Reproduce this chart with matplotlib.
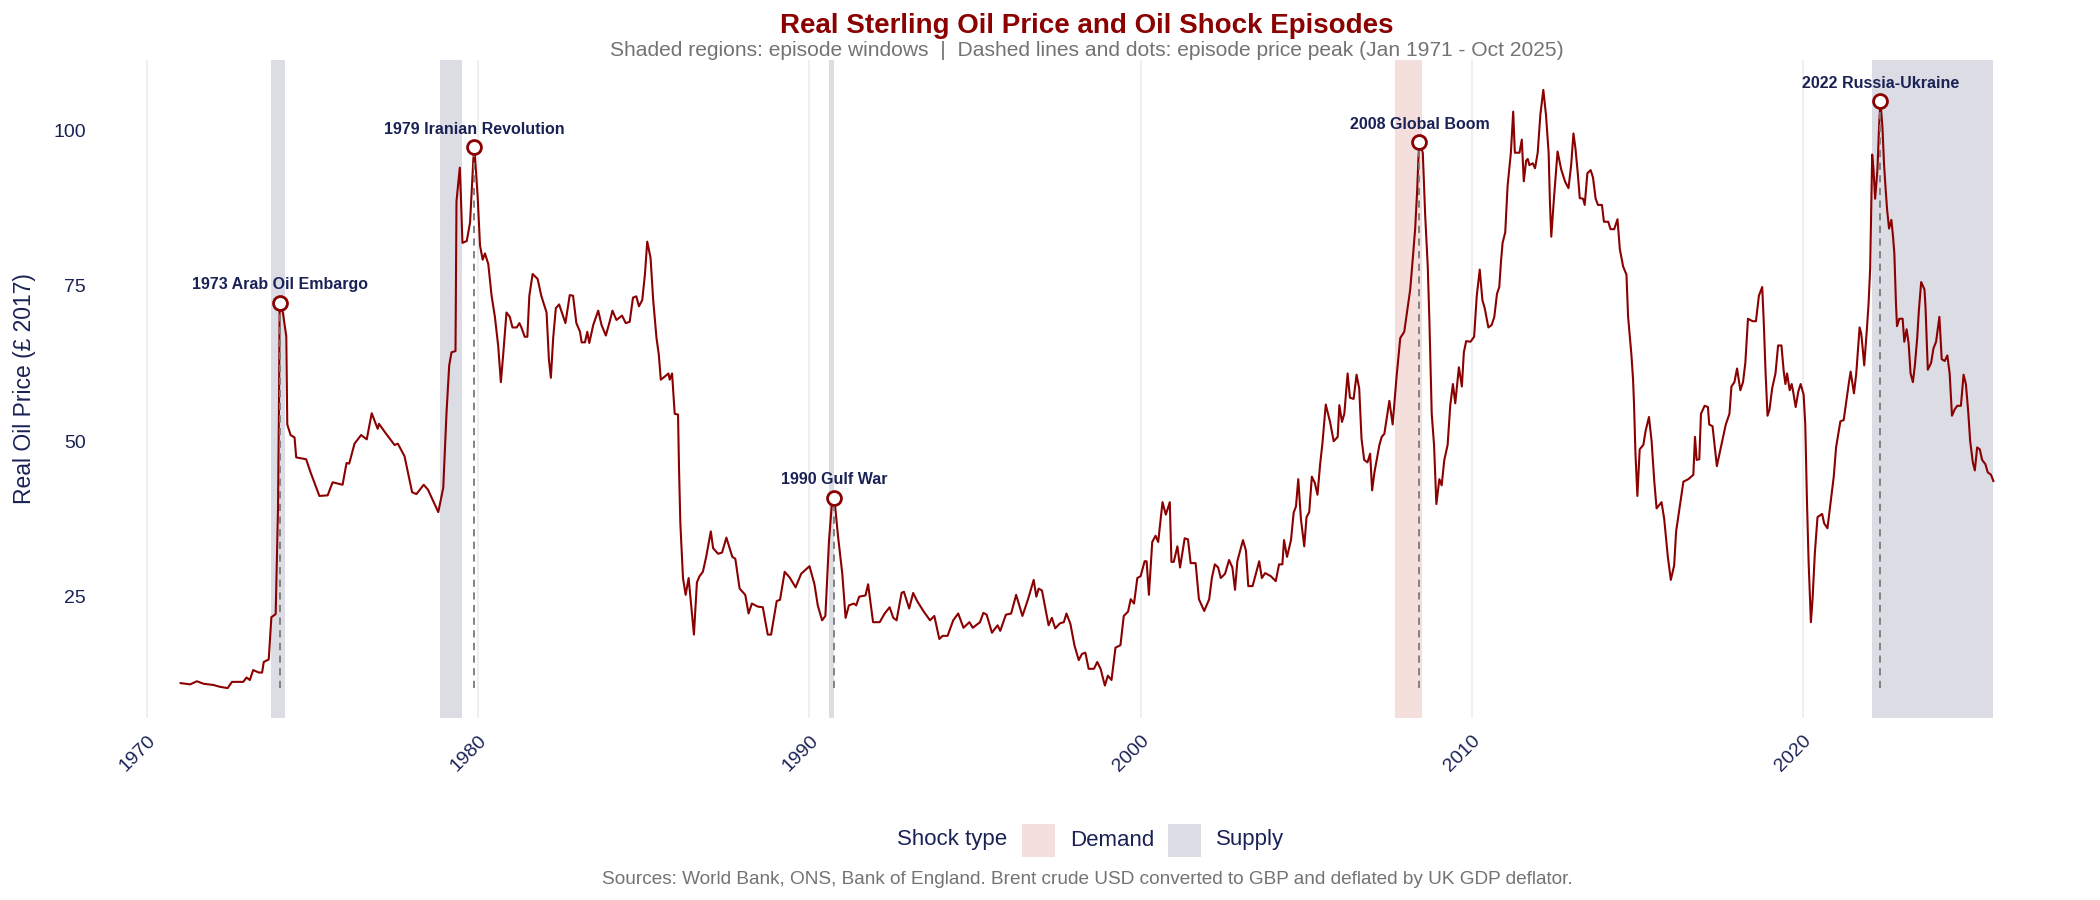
import matplotlib
matplotlib.use("Agg")
import matplotlib.pyplot as plt
from matplotlib.patches import Rectangle

plt.rcParams["font.family"] = ["Liberation Sans", "DejaVu Sans"]

# === 1. data (decimal year, real price in £ 2017) ===
years = [
    1971.01, 1971.3, 1971.5, 1971.7, 1972.0, 1972.2, 1972.43, 1972.56, 1972.9, 1973.0,
    1973.1, 1973.2, 1973.37, 1973.47, 1973.52, 1973.67, 1973.75, 1973.88, 1973.95, 1973.98,
    1974.0, 1974.1, 1974.2, 1974.23, 1974.33, 1974.45, 1974.5, 1974.8, 1974.94, 1975.2,
    1975.45, 1975.6, 1975.9, 1976.02, 1976.1, 1976.26, 1976.46, 1976.63, 1976.78, 1976.96,
    1977.0, 1977.2, 1977.47, 1977.57, 1977.77, 1978.0, 1978.13, 1978.35, 1978.48, 1978.79,
    1978.94, 1978.99, 1979.04, 1979.12, 1979.19, 1979.31, 1979.34, 1979.44, 1979.47, 1979.52,
    1979.65, 1979.75, 1979.85, 1979.88, 1979.98, 1980.05, 1980.13, 1980.2, 1980.3, 1980.4,
    1980.5, 1980.6, 1980.68, 1980.75, 1980.85, 1980.95, 1981.03, 1981.16, 1981.24, 1981.3,
    1981.4, 1981.48, 1981.54, 1981.64, 1981.79, 1981.9, 1982.06, 1982.13, 1982.19, 1982.26,
    1982.34, 1982.44, 1982.54, 1982.63, 1982.76, 1982.86, 1982.96, 1983.07, 1983.12, 1983.22,
    1983.29, 1983.35, 1983.47, 1983.62, 1983.72, 1983.85, 1983.97, 1984.05, 1984.17, 1984.34,
    1984.45, 1984.57, 1984.67, 1984.77, 1984.85, 1984.95, 1985.03, 1985.1, 1985.2, 1985.28,
    1985.38, 1985.45, 1985.51, 1985.63, 1985.74, 1985.78, 1985.85, 1985.93, 1986.03, 1986.06,
    1986.1, 1986.18, 1986.26, 1986.35, 1986.41, 1986.51, 1986.6, 1986.68, 1986.78, 1986.88,
    1987.02, 1987.09, 1987.24, 1987.36, 1987.49, 1987.67, 1987.76, 1987.89, 1988.06, 1988.16,
    1988.26, 1988.44, 1988.59, 1988.74, 1988.84, 1989.01, 1989.11, 1989.25, 1989.4, 1989.58,
    1989.75, 1990.0, 1990.15, 1990.25, 1990.38, 1990.48, 1990.59, 1990.68, 1990.75, 1990.86,
    1990.99, 1991.09, 1991.19, 1991.34, 1991.41, 1991.5, 1991.69, 1991.77, 1991.92, 1992.12,
    1992.27, 1992.42, 1992.53, 1992.63, 1992.78, 1992.85, 1993.01, 1993.13, 1993.25, 1993.45,
    1993.64, 1993.77, 1993.92, 1994.02, 1994.17, 1994.34, 1994.49, 1994.65, 1994.83, 1994.93,
    1995.15, 1995.25, 1995.35, 1995.51, 1995.68, 1995.76, 1995.93, 1996.09, 1996.24, 1996.43,
    1996.6, 1996.77, 1996.85, 1996.92, 1997.02, 1997.22, 1997.32, 1997.42, 1997.56, 1997.68,
    1997.76, 1997.88, 1998.0, 1998.13, 1998.23, 1998.33, 1998.43, 1998.59, 1998.69, 1998.79,
    1998.92, 1999.01, 1999.12, 1999.24, 1999.39, 1999.49, 1999.62, 1999.7, 1999.8, 1999.9,
    2000.0, 2000.12, 2000.18, 2000.25, 2000.35, 2000.45, 2000.53, 2000.66, 2000.76, 2000.88,
    2000.93, 2001.0, 2001.11, 2001.19, 2001.33, 2001.43, 2001.51, 2001.66, 2001.76, 2001.92,
    2002.07, 2002.15, 2002.24, 2002.34, 2002.42, 2002.55, 2002.67, 2002.77, 2002.85, 2002.92,
    2003.09, 2003.18, 2003.25, 2003.38, 2003.58, 2003.66, 2003.76, 2003.93, 2004.08, 2004.18,
    2004.28, 2004.33, 2004.42, 2004.54, 2004.62, 2004.69, 2004.76, 2004.84, 2004.94, 2005.01,
    2005.09, 2005.17, 2005.26, 2005.34, 2005.42, 2005.49, 2005.59, 2005.72, 2005.83, 2005.95,
    2006.0, 2006.08, 2006.15, 2006.25, 2006.32, 2006.43, 2006.52, 2006.6, 2006.67, 2006.75,
    2006.85, 2006.93, 2006.99, 2007.06, 2007.21, 2007.28, 2007.36, 2007.51, 2007.61, 2007.73,
    2007.84, 2007.96, 2008.06, 2008.14, 2008.22, 2008.29, 2008.35, 2008.39, 2008.42, 2008.52,
    2008.59, 2008.67, 2008.72, 2008.79, 2008.86, 2008.93, 2009.02, 2009.09, 2009.17, 2009.27,
    2009.35, 2009.43, 2009.5, 2009.61, 2009.7, 2009.76, 2009.83, 2009.96, 2010.07, 2010.15,
    2010.24, 2010.32, 2010.39, 2010.5, 2010.6, 2010.68, 2010.76, 2010.83, 2010.88, 2010.93,
    2011.01, 2011.08, 2011.18, 2011.25, 2011.3, 2011.44, 2011.51, 2011.57, 2011.64, 2011.69,
    2011.74, 2011.84, 2011.91, 2011.99, 2012.07, 2012.16, 2012.24, 2012.32, 2012.36, 2012.4,
    2012.48, 2012.53, 2012.59, 2012.7, 2012.82, 2012.92, 2013.0, 2013.07, 2013.13, 2013.2,
    2013.26, 2013.36, 2013.41, 2013.49, 2013.59, 2013.66, 2013.74, 2013.81, 2013.93, 2013.99,
    2014.12, 2014.19, 2014.3, 2014.4, 2014.47, 2014.57, 2014.67, 2014.72, 2014.82, 2014.87,
    2014.9, 2014.94, 2015.0, 2015.07, 2015.18, 2015.25, 2015.35, 2015.43, 2015.51, 2015.58,
    2015.73, 2015.81, 2015.92, 2016.01, 2016.11, 2016.17, 2016.29, 2016.39, 2016.54, 2016.69,
    2016.74, 2016.79, 2016.87, 2016.92, 2017.03, 2017.13, 2017.17, 2017.27, 2017.4, 2017.55,
    2017.67, 2017.78, 2017.84, 2017.93, 2018.01, 2018.11, 2018.19, 2018.26, 2018.34, 2018.48,
    2018.58, 2018.67, 2018.77, 2018.82, 2018.87, 2018.93, 2018.99, 2019.07, 2019.17, 2019.25,
    2019.35, 2019.42, 2019.47, 2019.52, 2019.6, 2019.66, 2019.71, 2019.78, 2019.86, 2019.93,
    2020.02, 2020.07, 2020.12, 2020.17, 2020.24, 2020.29, 2020.36, 2020.44, 2020.58, 2020.64,
    2020.74, 2020.83, 2020.93, 2021.0, 2021.13, 2021.23, 2021.32, 2021.39, 2021.44, 2021.49,
    2021.54, 2021.61, 2021.71, 2021.76, 2021.81, 2021.85, 2021.93, 2021.98, 2022.03, 2022.06,
    2022.09, 2022.13, 2022.18, 2022.25, 2022.3, 2022.34, 2022.4, 2022.45, 2022.5, 2022.54,
    2022.6, 2022.67, 2022.72, 2022.76, 2022.81, 2022.84, 2022.91, 2023.01, 2023.06, 2023.13,
    2023.19, 2023.25, 2023.32, 2023.38, 2023.45, 2023.5, 2023.57, 2023.67, 2023.7, 2023.77,
    2023.87, 2023.94, 2024.02, 2024.12, 2024.19, 2024.28, 2024.36, 2024.43, 2024.5, 2024.58,
    2024.66, 2024.77, 2024.85, 2024.92, 2024.99, 2025.05, 2025.13, 2025.19, 2025.26, 2025.34,
    2025.41, 2025.51, 2025.58, 2025.68, 2025.75,
]
prices = [
    11.1, 10.9, 11.4, 11.0, 10.8, 10.5, 10.3, 11.3, 11.3, 12.0,
    11.6, 13.2, 12.8, 12.8, 14.5, 14.9, 21.7, 22.2, 39.1, 55.7,
    72.3, 70.6, 66.9, 52.7, 51.0, 50.6, 47.4, 47.1, 44.9, 41.2,
    41.3, 43.4, 43.0, 46.5, 46.4, 49.6, 51.0, 50.3, 54.5, 52.0,
    52.8, 51.3, 49.4, 49.6, 47.6, 41.8, 41.5, 43.0, 42.2, 38.6,
    42.5, 48.6, 54.7, 62.2, 64.3, 64.5, 88.6, 94.0, 89.9, 81.9,
    82.2, 85.2, 95.4, 97.3, 89.3, 81.5, 79.2, 80.2, 78.5, 73.4,
    70.0, 65.3, 59.5, 63.9, 70.7, 70.0, 68.3, 68.3, 69.0, 68.3,
    66.8, 66.8, 73.4, 76.9, 76.1, 73.4, 70.7, 63.2, 60.2, 66.6,
    71.4, 72.0, 70.4, 69.0, 73.5, 73.4, 69.0, 67.6, 65.9, 65.9,
    67.6, 65.8, 68.7, 71.0, 68.7, 67.0, 69.3, 71.0, 69.5, 70.2,
    69.0, 69.2, 73.1, 73.3, 71.7, 72.7, 76.8, 82.1, 79.5, 72.7,
    66.6, 63.9, 59.9, 60.4, 60.9, 59.9, 60.9, 54.4, 54.3, 45.6,
    36.8, 28.0, 25.3, 28.0, 24.6, 18.9, 27.3, 28.3, 29.0, 31.4,
    35.5, 32.8, 31.9, 32.1, 34.5, 31.4, 31.1, 26.3, 25.3, 22.3,
    23.9, 23.4, 23.3, 18.9, 18.9, 24.3, 24.5, 29.0, 28.1, 26.5,
    28.7, 29.9, 27.0, 23.6, 21.2, 21.9, 34.1, 40.2, 40.9, 34.8,
    28.7, 21.6, 23.6, 23.9, 23.6, 25.0, 25.2, 27.0, 20.9, 20.9,
    22.3, 23.3, 21.6, 21.2, 25.6, 25.8, 23.1, 25.6, 24.3, 22.6,
    21.2, 21.9, 18.2, 18.7, 18.7, 21.2, 22.3, 20.0, 20.9, 20.0,
    20.9, 22.4, 22.1, 19.2, 20.4, 19.5, 22.1, 22.3, 25.3, 21.9,
    24.6, 27.7, 25.0, 26.3, 26.0, 20.4, 21.6, 19.9, 20.7, 20.9,
    22.3, 20.6, 17.2, 14.8, 15.8, 16.0, 13.4, 13.4, 14.5, 13.4,
    10.7, 12.3, 11.6, 16.8, 17.2, 21.9, 22.6, 24.6, 23.9, 28.0,
    28.3, 30.7, 30.7, 25.3, 33.8, 34.8, 33.8, 40.2, 38.2, 40.2,
    30.6, 30.6, 33.1, 29.7, 34.4, 34.2, 30.4, 30.4, 24.6, 22.7,
    24.6, 28.0, 30.2, 29.7, 28.0, 28.7, 30.9, 29.7, 26.1, 30.7,
    34.1, 32.4, 26.7, 26.7, 30.7, 28.0, 28.8, 28.3, 27.5, 30.2,
    30.2, 34.1, 31.4, 34.1, 38.5, 39.5, 43.9, 37.5, 33.1, 37.8,
    38.6, 44.3, 43.3, 41.4, 46.3, 49.7, 55.9, 53.1, 50.0, 50.7,
    55.8, 53.1, 54.4, 60.9, 57.0, 56.8, 60.7, 58.5, 50.4, 47.0,
    46.6, 48.0, 42.1, 45.0, 49.4, 50.7, 51.2, 56.5, 52.7, 60.5,
    66.6, 67.6, 71.4, 74.4, 79.5, 84.2, 90.3, 95.8, 98.1, 96.4,
    86.6, 78.1, 69.3, 54.4, 49.4, 39.9, 43.9, 42.9, 47.0, 49.4,
    55.8, 59.2, 56.1, 61.9, 58.8, 64.3, 66.1, 66.0, 66.8, 73.4,
    77.6, 72.7, 71.4, 68.3, 68.7, 70.0, 73.7, 74.8, 78.8, 81.9,
    83.6, 91.0, 96.4, 103.0, 96.4, 96.4, 98.5, 91.8, 95.1, 95.4,
    94.4, 94.7, 93.9, 96.4, 102.5, 106.5, 102.5, 96.4, 88.3, 82.9,
    89.0, 92.4, 96.6, 93.7, 91.7, 90.7, 94.4, 99.5, 97.1, 93.1,
    89.1, 89.0, 88.0, 93.1, 93.6, 92.4, 89.0, 88.0, 88.0, 85.3,
    85.3, 84.1, 84.1, 85.7, 80.9, 78.1, 76.8, 70.0, 63.9, 59.9,
    55.8, 48.3, 41.2, 48.7, 49.4, 51.7, 53.9, 50.0, 43.6, 39.2,
    40.2, 37.5, 31.4, 27.7, 30.0, 35.5, 39.9, 43.5, 43.9, 44.6,
    50.7, 47.0, 47.1, 54.4, 55.7, 55.5, 52.7, 52.4, 46.0, 49.7,
    52.7, 54.4, 58.8, 59.5, 61.7, 58.2, 59.5, 62.6, 69.7, 69.3,
    69.3, 73.4, 74.8, 68.7, 61.2, 54.1, 55.1, 58.5, 60.9, 65.4,
    65.4, 61.2, 59.2, 60.9, 58.2, 59.2, 57.8, 55.5, 58.0, 59.2,
    57.5, 52.7, 40.6, 30.7, 20.9, 24.6, 32.1, 37.8, 38.3, 36.8,
    36.0, 39.9, 44.3, 49.0, 53.2, 53.4, 56.8, 59.5, 61.2, 59.5,
    57.7, 60.9, 68.3, 67.3, 64.6, 62.2, 68.0, 72.0, 77.8, 86.9,
    96.1, 93.7, 89.0, 93.7, 100.8, 104.7, 100.5, 94.4, 90.3, 87.3,
    84.2, 85.6, 82.9, 80.2, 72.0, 68.5, 69.7, 69.7, 66.0, 68.0,
    65.8, 60.9, 59.5, 62.2, 66.6, 71.0, 75.6, 74.4, 71.7, 61.5,
    62.6, 64.9, 66.0, 70.0, 63.2, 62.9, 63.8, 60.9, 54.1, 55.1,
    55.7, 55.7, 60.7, 59.2, 54.8, 50.0, 46.6, 45.3, 49.0, 48.7,
    47.0, 46.3, 45.0, 44.6, 43.6,
]

# === 2. oil shock episodes ===
ep_names = ["1973 Arab Oil Embargo", "1979 Iranian Revolution", "1990 Gulf War",
            "2008 Global Boom", "2022 Russia-Ukraine"]
ep_types = ["Supply", "Supply", "Supply", "Demand", "Supply"]
ep_start = [1973.75, 1978.83, 1990.58, 2007.67, 2022.08]
ep_end = [1974.17, 1979.5, 1990.75, 2008.5, 2025.75]
peak_years = [1974.0, 1979.88, 1990.75, 2008.42, 2022.34]
peak_prices = [72.3, 97.3, 40.9, 98.1, 104.7]

shock_types = ["Demand", "Supply"]
shock_colors = {"Demand": "#F5DFDD", "Supply": "#DCDCE4"}

NAVY = "#1A2255"
LINE = "#8B0000"
GREY = "#737373"

# === 3. figure ===
fig = plt.figure(figsize=(21, 9), dpi=100)
ax = fig.add_axes([90 / 2100, 1 - 718 / 900, 1994 / 2100, 658 / 900])

for s, e, t in zip(ep_start, ep_end, ep_types):
    ax.axvspan(s, e, color=shock_colors[t], lw=0, zorder=1)

ax.plot(years, prices, color=LINE, lw=1.5, zorder=3)

ymin = min(prices)
ax.vlines(peak_years, ymin, peak_prices, colors="#7A7A7A", linestyles=(0, (4, 3)),
          lw=1.3, zorder=4)
ax.plot(peak_years, peak_prices, "o", ms=10, mfc="white", mec=LINE, mew=2, zorder=5)
for name, px, py in zip(ep_names, peak_years, peak_prices):
    ax.annotate(name, (px, py), xytext=(0, 13), textcoords="offset points",
                ha="center", va="center", fontsize=11.5, fontweight="bold", color=NAVY)

# ggplot-like 5% expansion
xr = years[-1] - years[0]
yr = max(prices) - min(prices)
ax.set_xlim(years[0] - 0.05 * xr, years[-1] + 0.05 * xr)
ax.set_ylim(min(prices) - 0.05 * yr, max(prices) + 0.05 * yr)

ax.set_xticks(range(1970, 2021, 10))
ax.set_yticks([25, 50, 75, 100])
ax.grid(axis="x", color="#EBEBEB", lw=1.1)
ax.grid(axis="y", visible=False)
ax.set_axisbelow(True)
for sp in ax.spines.values():
    sp.set_visible(False)
ax.tick_params(length=0, labelsize=14, labelcolor=NAVY)
ax.tick_params(axis="y", pad=3)
ax.tick_params(axis="x", pad=10)
for lbl in ax.get_xticklabels():
    lbl.set_rotation(45)
    lbl.set_ha("right")
    lbl.set_va("top")
    lbl.set_rotation_mode("anchor")

ax.set_ylabel("Real Oil Price (£ 2017)", fontsize=16.5, color=NAVY)
ax.yaxis.set_label_coords(-0.027, 0.5)

# titles
cx = (90 + 1994 / 2) / 2100
fig.text(cx, 1 - 26 / 900, "Real Sterling Oil Price and Oil Shock Episodes",
         ha="center", va="center", fontsize=20, fontweight="bold", color=LINE)
fig.text(cx, 1 - 50 / 900,
         "Shaded regions: episode windows  |  Dashed lines and dots: episode price peak (Jan 1971 - Oct 2025)",
         ha="center", va="center", fontsize=15.1, color=GREY)

# legend
ly = 1 - 840 / 900
fig.text(897 / 2100, ly, "Shock type", ha="left", va="center", fontsize=16, color=NAVY)
kx = 1022
for t in shock_types:
    fig.add_artist(Rectangle((kx / 2100, ly - 16.5 / 900), 33 / 2100, 33 / 900,
                             transform=fig.transFigure, facecolor=shock_colors[t], lw=0))
    fig.text((kx + 48) / 2100, ly, t, ha="left", va="center", fontsize=16, color=NAVY)
    kx += 146

fig.text(cx, 1 - 879 / 900,
         "Sources: World Bank, ONS, Bank of England. Brent crude USD converted to GBP and deflated by UK GDP deflator.",
         ha="center", va="center", fontsize=13.7, color=GREY)

fig.savefig("out.png", dpi=100)
